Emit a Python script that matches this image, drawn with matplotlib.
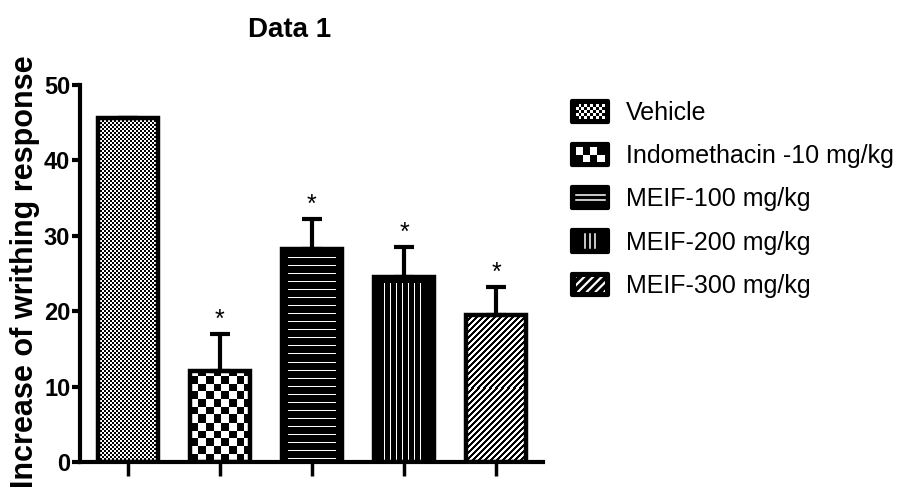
import numpy as np
import matplotlib
matplotlib.use('Agg')
import matplotlib.pyplot as plt
from matplotlib.patches import Rectangle
from matplotlib.lines import Line2D
from matplotlib.legend_handler import HandlerBase

categories = ['Vehicle', 'Indomethacin -10 mg/kg', 'MEIF-100 mg/kg',
              'MEIF-200 mg/kg', 'MEIF-300 mg/kg']
means = [45.6, 12.1, 28.3, 24.6, 19.5]
sem = [0.0, 4.9, 3.9, 3.9, 3.7]
significant = [False, True, True, True, True]
yticks = [0, 10, 20, 30, 40, 50]
title = 'Data 1'
ylabel = 'Increase of writhing response'

plt.rcParams['font.family'] = ['Liberation Sans', 'DejaVu Sans']

patterns = ['fine', 'checker', 'h', 'v', 'd']


def pattern_array(kind, ny, nx):
    """1 = white, 0 = black; rows from bottom."""
    r = np.arange(ny)[:, None] * np.ones((1, nx), dtype=int)
    c = np.ones((ny, 1), dtype=int) * np.arange(nx)[None, :]
    if kind == 'fine':
        return ((r // 2 + c // 2) % 2).astype(float)
    if kind == 'checker':
        return ((np.floor(r / 7.7) + np.floor(c / 7.7)) % 2).astype(float)
    if kind == 'h':
        a = ((r % 8) == 3) & (c >= 6) & (c < nx - 6) & (r < ny - 6)
        return a.astype(float)
    if kind == 'v':
        a = (((c - 10) % 6) == 0) & (c >= 9) & (c < nx - 8) & (r < ny - 7)
        return a.astype(float)
    if kind == 'd':
        return (((r - c) % 6) >= 3).astype(float)
    return np.ones((ny, nx))


fig = plt.figure(figsize=(9.02, 4.91), dpi=100)
ax = fig.add_axes([80/902, 1-462/491, 463/902, 377/491])
x = np.arange(len(categories))
XLIM = (-0.52, 4.51)
ax.set_xlim(*XLIM)
ax.set_ylim(0, 50)

W = 0.65
outline = ax.bar(x, means, width=W, color='none', edgecolor='black',
                 linewidth=3.2, zorder=3)
for i, rect in enumerate(outline):
    x0, w, h = rect.get_x(), rect.get_width(), rect.get_height()
    p0 = ax.transData.transform((x0, 0))
    p1 = ax.transData.transform((x0 + w, h))
    nx = max(1, int(round(p1[0] - p0[0])))
    ny = max(1, int(round(p1[1] - p0[1])))
    arr = pattern_array(patterns[i], ny, nx)
    im = ax.imshow(arr, cmap='gray', vmin=0, vmax=1, extent=(x0, x0 + w, 0, h),
                   origin='lower', interpolation='nearest', aspect='auto', zorder=2)
    im.set_clip_path(rect)

ax.set_xlim(*XLIM)
ax.set_ylim(0, 50)
ax.set_aspect('auto')

ax.errorbar(x, means, yerr=[np.zeros(len(x)), sem], fmt='none', ecolor='black',
            elinewidth=3, capsize=7, capthick=3, zorder=4)
for i in range(len(x)):
    if significant[i]:
        ax.annotate('*', (x[i], means[i] + sem[i]), xytext=(0, 10),
                    textcoords='offset points', ha='center', va='center',
                    fontsize=18)

for s in ['top', 'right']:
    ax.spines[s].set_visible(False)
for s in ['left', 'bottom']:
    ax.spines[s].set_linewidth(3)
    ax.spines[s].set_capstyle('projecting')
ax.set_yticks(yticks)
ax.tick_params(axis='y', length=6, width=3, labelsize=17, pad=1)
for lbl in ax.get_yticklabels():
    lbl.set_fontweight('bold')
ax.set_xticks(x)
ax.set_xticklabels([])
ax.tick_params(axis='x', length=10, width=2.5)


class PatternKey:
    def __init__(self, kind):
        self.kind = kind


class PatternHandler(HandlerBase):
    def create_artists(self, legend, orig_handle, xdescent, ydescent, width, height,
                       fontsize, trans):
        kind = orig_handle.kind
        x0, y0 = -xdescent, -ydescent
        arts = [Rectangle((x0, y0), width, height, facecolor='black',
                          edgecolor='black', lw=3, joinstyle='round',
                          transform=trans)]
        ix0, iy0 = x0 + 0.1 * width, y0 + 0.15 * height
        iw, ih = 0.8 * width, 0.7 * height
        if kind in ('fine', 'checker'):
            nxc, nyc = (10, 5) if kind == 'fine' else (4, 2)
            cw, ch = iw / nxc, ih / nyc
            for rr in range(nyc):
                for cc in range(nxc):
                    if (rr + cc) % 2 == 1:
                        arts.append(Rectangle((ix0 + cc * cw, iy0 + rr * ch), cw, ch,
                                              facecolor='white', edgecolor='none',
                                              transform=trans))
        elif kind == 'h':
            for fy in (0.4, 0.62):
                arts.append(Line2D([ix0, ix0 + iw], [y0 + fy * height] * 2,
                                   color='white', lw=1.1, transform=trans))
        elif kind == 'v':
            for fx in (0.36, 0.5, 0.64):
                arts.append(Line2D([x0 + fx * width] * 2, [iy0, iy0 + ih],
                                   color='white', lw=1.1, transform=trans))
        elif kind == 'd':
            clip = Rectangle((ix0, iy0), iw, ih, transform=trans)
            n = 6
            for k in range(n):
                sx = ix0 - ih + k * (iw + ih) / (n - 1)
                ln = Line2D([sx, sx + ih], [iy0, iy0 + ih], color='white', lw=1.6,
                            transform=trans)
                ln.set_clip_path(clip)
                arts.append(ln)
        return arts


handles = [PatternKey(k) for k in patterns]

fig.legend(handles, categories, loc='upper left',
           bbox_to_anchor=(572/902, 1-101/491), frameon=False, fontsize=18,
           handlelength=1.45, handleheight=0.92, handletextpad=0.7,
           labelspacing=0.76, borderpad=0, borderaxespad=0,
           handler_map={PatternKey: PatternHandler()})

fig.text(290/902, 1-30/491, title, ha='center', va='center', fontsize=20,
         fontweight='bold')
fig.text(25/902, 1-272/491, ylabel, rotation=90, ha='center', va='center',
         fontsize=22, fontweight='bold')

fig.savefig('out.png', dpi=100)
